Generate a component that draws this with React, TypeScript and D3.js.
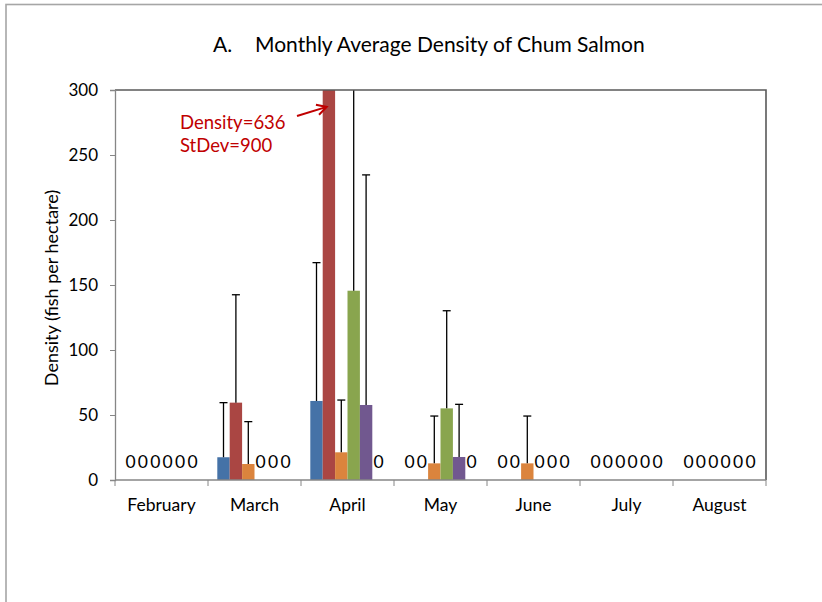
import React, { useEffect, useRef } from "react";
import * as d3 from "d3";

const months = ["February", "March", "April", "May", "June", "July", "August"];
const seriesNames = ["Series 1", "Series 2", "Series 3", "Series 4", "Series 5", "Series 6"];
const seriesColors = ["#4572A7", "#AA4643", "#DB843D", "#89A54E", "#71588F", "#4198AF"];

// density per month, one array per series
const density = [
  [0, 17.5, 60.8, 0, 0, 0, 0],
  [0, 59.5, 636, 0, 0, 0, 0],
  [0, 12.3, 21.3, 12.8, 12.8, 0, 0],
  [0, 0, 145.6, 55.1, 0, 0, 0],
  [0, 0, 57.7, 17.7, 0, 0, 0],
  [0, 0, 0, 0, 0, 0, 0],
];
const stdev = [
  [0, 42, 106.4, 0, 0, 0, 0],
  [0, 83, 900, 0, 0, 0, 0],
  [0, 32.6, 40.2, 36.4, 36.4, 0, 0],
  [0, 0, 170, 75.1, 0, 0, 0],
  [0, 0, 177, 40.5, 0, 0, 0],
  [0, 0, 0, 0, 0, 0, 0],
];
const yTicks = [0, 50, 100, 150, 200, 250, 300];

const FONT = "Lato, 'Open Sans', sans-serif";

export default function App() {
  const svgRef = useRef<SVGSVGElement>(null);

  useEffect(() => {
    if (!svgRef.current) return;
    const svg = d3.select(svgRef.current);
    svg.selectAll("*").remove();

    const margin = { top: 90, left: 115, right: 766, bottom: 480 };

    // outer chart frame
    svg.append("rect")
      .attr("x", 6).attr("y", 4.5)
      .attr("width", 900).attr("height", 700)
      .attr("fill", "#fff").attr("stroke", "#a6a6a6").attr("stroke-width", 1.6);

    svg.append("text")
      .attr("y", 52)
      .attr("font-family", FONT).attr("font-size", 21).attr("fill", "#000")
      .call((t) => {
        t.append("tspan").attr("x", 213).text("A.");
        t.append("tspan").attr("x", 255).text("Monthly Average Density of Chum Salmon");
      });

    const x0 = d3.scaleBand().domain(months).range([margin.left, margin.right]).paddingInner(0).paddingOuter(0);
    const x1 = d3.scaleBand().domain(seriesNames).range([0, x0.bandwidth()]).paddingOuter(0.75).paddingInner(0);
    const y = d3.scaleLinear().domain([0, 300]).range([margin.bottom, margin.top]);

    svg.append("defs").append("clipPath").attr("id", "plot")
      .append("rect")
      .attr("x", margin.left).attr("y", margin.top)
      .attr("width", margin.right - margin.left).attr("height", margin.bottom - margin.top);

    const plot = svg.append("g").attr("clip-path", "url(#plot)");

    const cells = seriesNames.flatMap((s, si) =>
      months.map((m, mi) => ({ s, si, m, v: density[si][mi], sd: stdev[si][mi] }))
    );

    plot.selectAll(".bar")
      .data(cells.filter((d) => d.v > 0))
      .enter()
      .append("rect")
      .attr("x", (d) => (x0(d.m) as number) + (x1(d.s) as number))
      .attr("y", (d) => y(d.v))
      .attr("width", x1.bandwidth())
      .attr("height", (d) => y(0) - y(d.v))
      .attr("fill", (d) => seriesColors[d.si]);

    // error bars (plus only)
    const eb = plot.selectAll(".err")
      .data(cells.filter((d) => d.sd > 0))
      .enter()
      .append("g")
      .attr("transform", (d) => `translate(${(x0(d.m) as number) + (x1(d.s) as number) + x1.bandwidth() / 2},0)`);
    eb.append("line")
      .attr("y1", (d) => y(d.v)).attr("y2", (d) => y(d.v + d.sd))
      .attr("stroke", "#000").attr("stroke-width", 1.3);
    eb.append("line")
      .attr("x1", -4).attr("x2", 4)
      .attr("y1", (d) => y(d.v + d.sd)).attr("y2", (d) => y(d.v + d.sd))
      .attr("stroke", "#000").attr("stroke-width", 1.3);

    // zero labels
    svg.selectAll(".zero")
      .data(cells.filter((d) => d.v === 0))
      .enter()
      .append("text")
      .attr("x", (d) => (x0(d.m) as number) + (x1(d.s) as number) + x1.bandwidth() / 2)
      .attr("y", y(0) - 12)
      .attr("text-anchor", "middle")
      .attr("font-family", FONT).attr("font-size", 17.5)
      .text("0");

    // plot frame: top + right
    svg.append("path")
      .attr("d", `M${margin.left},${margin.top}H${margin.right}V${margin.bottom}`)
      .attr("fill", "none").attr("stroke", "#595959").attr("stroke-width", 1.6);

    // y axis
    const yAxis = svg.append("g")
      .attr("transform", `translate(${margin.left},0)`)
      .call(d3.axisLeft(y).tickValues(yTicks).tickSize(5).tickPadding(12));
    yAxis.select(".domain").attr("stroke", "#868686").attr("stroke-width", 1.3);
    yAxis.selectAll(".tick line").attr("stroke", "#868686");
    yAxis.selectAll("text").attr("font-family", FONT).attr("font-size", 17).attr("fill", "#000");

    // x axis with ticks between categories
    const xAxis = svg.append("g").attr("transform", `translate(0,${margin.bottom})`);
    xAxis.append("line")
      .attr("x1", margin.left).attr("x2", margin.right)
      .attr("stroke", "#868686").attr("stroke-width", 1.3);
    xAxis.selectAll(".xt")
      .data([...months.map((m) => x0(m) as number), margin.right])
      .enter()
      .append("line")
      .attr("x1", (d) => d).attr("x2", (d) => d)
      .attr("y1", 0).attr("y2", 6)
      .attr("stroke", "#868686");
    xAxis.selectAll(".xl")
      .data(months)
      .enter()
      .append("text")
      .attr("x", (d) => (x0(d) as number) + x0.bandwidth() / 2)
      .attr("y", 31)
      .attr("text-anchor", "middle")
      .attr("font-family", FONT).attr("font-size", 17.5)
      .text((d) => d);

    svg.append("text")
      .attr("transform", `translate(58,${(margin.top + margin.bottom) / 2 + 3}) rotate(-90)`)
      .attr("text-anchor", "middle")
      .attr("font-family", FONT).attr("font-size", 18)
      .text("Density (fish per hectare)");

    // annotation for the clipped April bar
    const tipX = (x0("April") as number) + (x1(seriesNames[1]) as number) + 4;
    const tipY = y(287);
    const arrowColor = "#C00000";
    svg.append("line")
      .attr("x1", 297).attr("y1", 116).attr("x2", tipX).attr("y2", tipY)
      .attr("stroke", arrowColor).attr("stroke-width", 2);
    const ang = Math.atan2(tipY - 116, tipX - 297);
    const head = (a: number) => [tipX - 11 * Math.cos(ang + a), tipY - 11 * Math.sin(ang + a)];
    const [ax, ay] = head(0.5);
    const [bx, by] = head(-0.5);
    svg.append("path")
      .attr("d", `M${ax},${ay}L${tipX},${tipY}L${bx},${by}`)
      .attr("fill", "none").attr("stroke", arrowColor).attr("stroke-width", 2);
    svg.append("text").attr("x", 180).attr("y", 129)
      .attr("font-family", FONT).attr("font-size", 18.5).attr("fill", arrowColor)
      .text("Density=636");
    svg.append("text").attr("x", 180).attr("y", 152)
      .attr("font-family", FONT).attr("font-size", 18.5).attr("fill", arrowColor)
      .text("StDev=900");
  }, []);

  return (
    <svg
      ref={svgRef}
      width={822}
      height={602}
      style={{ position: "absolute", left: 0, top: 0, background: "#fff" }}
    />
  );
}
